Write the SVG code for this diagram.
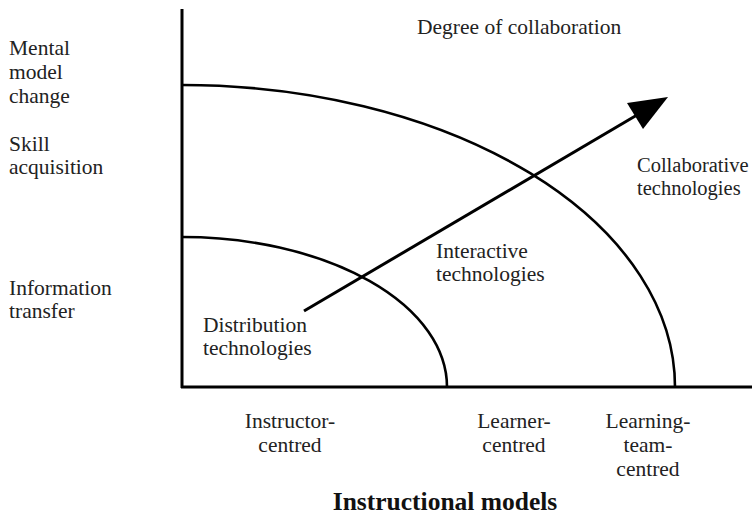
<svg xmlns="http://www.w3.org/2000/svg" width="752" height="524" viewBox="0 0 752 524">
<style>
text{font-family:"Liberation Serif","Times New Roman",serif;font-size:21.5px;fill:#222}
.c{text-anchor:middle}
.s{font-size:20.5px}
.b{font-weight:bold;font-size:25.5px;fill:#111}
.ln{fill:none;stroke:#000;stroke-width:3}
.arc{fill:none;stroke:#000;stroke-width:2.6}
</style>
<rect width="752" height="524" fill="#fff"/>
<g id="axes">
<path class="ln" d="M182,9 V388 M181,387 H752"/>
</g>
<g id="connectors">
<path class="arc" d="M182,237 A265,150 0 0 1 447,387"/>
<path class="arc" d="M182,85 A493,302 0 0 1 675,387"/>
<path class="ln" d="M304,311 L637,115"/>
<polygon points="668,97 627,103 643,129" fill="#000"/>
</g>
<g id="title"><text x="417" y="34">Degree of collaboration</text></g>
<g id="y-labels">
<text x="9" y="55">Mental</text>
<text x="9" y="79">model</text>
<text x="9" y="103">change</text>
<text x="9" y="151">Skill</text>
<text x="9" y="174">acquisition</text>
<text x="9" y="295">Information</text>
<text x="9" y="318">transfer</text>
</g>
<g id="distribution"><text x="203" y="332">Distribution</text><text x="203" y="355">technologies</text></g>
<g id="interactive"><text x="436" y="258">Interactive</text><text x="436" y="281">technologies</text></g>
<g id="collaborative"><text class="s" x="637" y="172">Collaborative</text><text class="s" x="637" y="195">technologies</text></g>
<g id="instructor"><text class="c" x="290" y="428">Instructor-</text><text class="c" x="290" y="452">centred</text></g>
<g id="learner"><text class="c" x="514" y="428">Learner-</text><text class="c" x="514" y="452">centred</text></g>
<g id="team"><text class="c" x="648" y="428">Learning-</text><text class="c" x="648" y="452">team-</text><text class="c" x="648" y="476">centred</text></g>
<g id="xtitle"><text class="c b" x="445" y="510">Instructional models</text></g>
</svg>
